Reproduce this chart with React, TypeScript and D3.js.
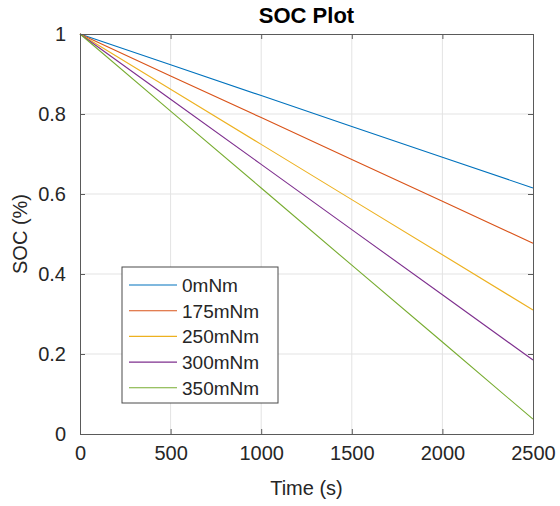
import React, { useEffect, useRef } from 'react';
import * as d3 from 'd3';

// time axis samples (s)
const times = [0, 500, 1000, 1500, 2000, 2500];

// SOC at each sample
const soc0 = [1, 0.923, 0.846, 0.769, 0.692, 0.615];
const soc175 = [1, 0.895, 0.791, 0.686, 0.582, 0.477];
const soc250 = [1, 0.862, 0.724, 0.586, 0.448, 0.31];
const soc300 = [1, 0.837, 0.674, 0.511, 0.348, 0.185];
const soc350 = [1, 0.807, 0.615, 0.422, 0.23, 0.037];

const seriesNames = ['0mNm', '175mNm', '250mNm', '300mNm', '350mNm'];
const seriesValues = [soc0, soc175, soc250, soc300, soc350];
const colors = ['#0072BD', '#D95319', '#EDB120', '#7E2F8E', '#77AC30'];

const xTicks = [0, 500, 1000, 1500, 2000, 2500];
const yTicks = [0, 0.2, 0.4, 0.6, 0.8, 1];

const W = 560;
const H = 506;
const FONT = '"Liberation Sans", Arial, Helvetica, sans-serif';

export default function App() {
  const svgRef = useRef<SVGSVGElement>(null);

  useEffect(() => {
    const svg = d3.select(svgRef.current);
    svg.selectAll('*').remove();

    const margin = { top: 34, right: 27, bottom: 72, left: 80 };
    const innerW = W - margin.left - margin.right;
    const innerH = H - margin.top - margin.bottom;

    const x = d3.scaleLinear().domain([0, 2500]).range([0, innerW]);
    const y = d3.scaleLinear().domain([0, 1]).range([innerH, 0]);

    const g = svg.append('g').attr('transform', `translate(${margin.left},${margin.top})`);

    // grid
    g.append('g')
      .selectAll('line.gx')
      .data(xTicks.slice(1, -1))
      .enter()
      .append('line')
      .attr('x1', d => x(d))
      .attr('x2', d => x(d))
      .attr('y1', 0)
      .attr('y2', innerH)
      .attr('stroke', '#e3e3e3')
      .attr('stroke-width', 1);
    g.append('g')
      .selectAll('line.gy')
      .data(yTicks.slice(1, -1))
      .enter()
      .append('line')
      .attr('x1', 0)
      .attr('x2', innerW)
      .attr('y1', d => y(d))
      .attr('y2', d => y(d))
      .attr('stroke', '#e3e3e3')
      .attr('stroke-width', 1);

    // lines
    const line = d3.line<number>()
      .x((_, i) => x(times[i]))
      .y(d => y(d));

    seriesValues.forEach((vals, i) => {
      g.append('path')
        .datum(vals)
        .attr('fill', 'none')
        .attr('stroke', colors[i])
        .attr('stroke-width', 1.1)
        .attr('d', line);
    });

    // axes (ticks inward, box on)
    const axisColor = '#5a5a5a';
    const xAxis = g.append('g')
      .attr('transform', `translate(0,${innerH})`)
      .call(d3.axisBottom(x).tickValues(xTicks).tickSize(-5).tickSizeOuter(0).tickPadding(12).tickFormat(d3.format('d')));
    const xTop = g.append('g')
      .call(d3.axisTop(x).tickValues(xTicks).tickSize(-5).tickSizeOuter(0).tickFormat(() => ''));
    const yAxis = g.append('g')
      .call(d3.axisLeft(y).tickValues(yTicks).tickSize(-5).tickSizeOuter(0).tickPadding(14).tickFormat(d => String(+d)));
    const yRight = g.append('g')
      .attr('transform', `translate(${innerW},0)`)
      .call(d3.axisRight(y).tickValues(yTicks).tickSize(-5).tickSizeOuter(0).tickFormat(() => ''));

    [xAxis, xTop, yAxis, yRight].forEach(a => {
      a.selectAll('.domain, .tick line').attr('stroke', axisColor);
      a.selectAll('text')
        .attr('fill', '#262626')
        .style('font-family', FONT)
        .style('font-size', '20px');
    });
    xAxis.selectAll('text').attr('dy', '0.72em');

    // title
    svg.append('text')
      .attr('x', margin.left + innerW / 2)
      .attr('y', 23)
      .attr('text-anchor', 'middle')
      .attr('fill', '#000')
      .style('font-family', FONT)
      .style('font-weight', 'bold')
      .style('font-size', '22px')
      .text('SOC Plot');

    // axis labels
    svg.append('text')
      .attr('x', margin.left + innerW / 2)
      .attr('y', 495)
      .attr('text-anchor', 'middle')
      .attr('fill', '#262626')
      .style('font-family', FONT)
      .style('font-size', '20px')
      .text('Time (s)');

    svg.append('text')
      .attr('transform', `translate(27,${margin.top + innerH / 2}) rotate(-90)`)
      .attr('text-anchor', 'middle')
      .attr('fill', '#262626')
      .style('font-family', FONT)
      .style('font-size', '20px')
      .text('SOC (%)');

    // legend
    const lg = svg.append('g').attr('transform', 'translate(122,267)');
    lg.append('rect')
      .attr('width', 156)
      .attr('height', 136)
      .attr('fill', '#fff')
      .attr('stroke', '#4a4a4a')
      .attr('stroke-width', 1);
    seriesNames.forEach((name, i) => {
      const cy = 18 + i * 25.7;
      lg.append('line')
        .attr('x1', 7)
        .attr('x2', 55)
        .attr('y1', cy)
        .attr('y2', cy)
        .attr('stroke', colors[i])
        .attr('stroke-width', 1.1);
      lg.append('text')
        .attr('x', 60)
        .attr('y', cy)
        .attr('dy', '0.36em')
        .attr('fill', '#262626')
        .style('font-family', FONT)
        .style('font-size', '19px')
        .text(name);
    });
  }, []);

  return (
    <div style={{ position: 'absolute', left: 0, top: 0, width: W, height: H }}>
      <svg ref={svgRef} width={W} height={H} style={{ display: 'block', background: '#fff', overflow: 'hidden' }} />
    </div>
  );
}
